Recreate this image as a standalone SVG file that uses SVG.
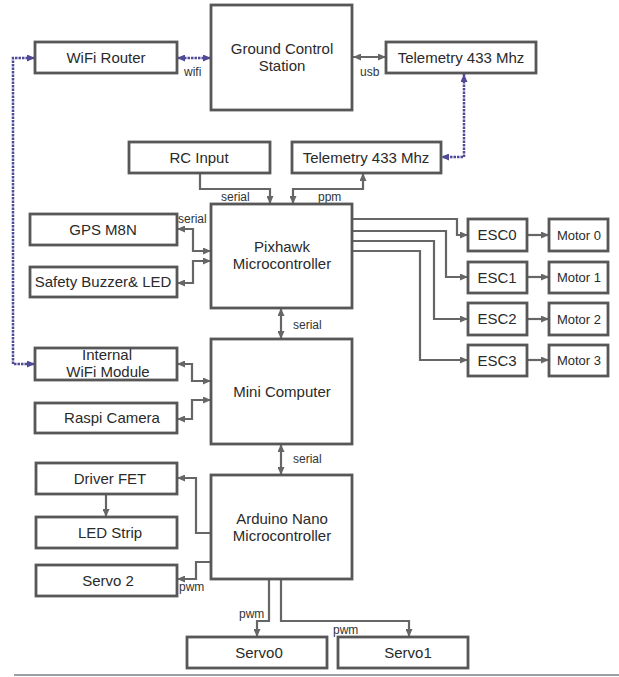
<svg xmlns="http://www.w3.org/2000/svg" width="619" height="677" viewBox="0 0 619 677">
<style>
.box{fill:#fff;stroke:#575757;stroke-width:2.8}
.t{font-family:"Liberation Sans",Arial,sans-serif;font-size:15px;fill:#2a2a2a;text-anchor:middle}
.m{font-size:13px}
.s{font-family:"Liberation Sans",Arial,sans-serif;font-size:12px;fill:#333}
.c{fill:none;stroke:#666;stroke-width:2.2}
.p{fill:none;stroke:#4e4a96;stroke-width:2.5;stroke-dasharray:2.5 1}
</style>
<defs>
<marker id="a" viewBox="0 0 8 7" refX="8" refY="3.5" markerWidth="8" markerHeight="7" markerUnits="userSpaceOnUse" orient="auto-start-reverse"><path d="M0,0 L8,3.5 L0,7 z" fill="#666"/></marker>
<marker id="ap" viewBox="0 0 8 7" refX="8" refY="3.5" markerWidth="8" markerHeight="7" markerUnits="userSpaceOnUse" orient="auto-start-reverse"><path d="M0,0 L8,3.5 L0,7 z" fill="#4e4a96"/></marker>
</defs>
<rect width="619" height="677" fill="#fff"/>
<line x1="14" y1="675" x2="619" y2="675" stroke="#9aa0a6" stroke-width="2"/>

<g id="connectors">
<path class="p" d="M177,58 H211" marker-start="url(#ap)" marker-end="url(#ap)"/>
<path class="c" d="M353,57 H386" marker-start="url(#a)" marker-end="url(#a)"/>
<path class="p" d="M464,74 V157 H441" marker-start="url(#ap)" marker-end="url(#ap)"/>
<path class="p" d="M35,58 H13 V364 H35" marker-start="url(#ap)" marker-end="url(#ap)"/>
<path class="c" d="M200,173 V189 H270 V204" marker-end="url(#a)"/>
<path class="c" d="M293,204 V189 H363 V173" marker-start="url(#a)" marker-end="url(#a)"/>
<path class="c" d="M211,251 H193 V229 H177" marker-start="url(#a)" marker-end="url(#a)"/>
<path class="c" d="M211,261 H193 V283 H177" marker-start="url(#a)" marker-end="url(#a)"/>
<path class="c" d="M281,308 V339" marker-start="url(#a)" marker-end="url(#a)"/>
<path class="c" d="M211,381 H192 V364 H177" marker-start="url(#a)" marker-end="url(#a)"/>
<path class="c" d="M211,400 H192 V419 H177" marker-start="url(#a)" marker-end="url(#a)"/>
<path class="c" d="M281,444 V475" marker-start="url(#a)" marker-end="url(#a)"/>
<path class="c" d="M211,533 H196 V478 H177" marker-end="url(#a)"/>
<path class="c" d="M106,494 V517" marker-end="url(#a)"/>
<path class="c" d="M211,562 H196 V579 H177" marker-end="url(#a)"/>
<path class="c" d="M269,579 V621 H257 V637" marker-end="url(#a)"/>
<path class="c" d="M281,579 V621 H409 V637" marker-end="url(#a)"/>
<path class="c" d="M352,219 H457 V235 H468" marker-end="url(#a)"/>
<path class="c" d="M352,231 H446 V277 H468" marker-end="url(#a)"/>
<path class="c" d="M352,241 H434 V319 H468" marker-end="url(#a)"/>
<path class="c" d="M352,251 H420 V360 H468" marker-end="url(#a)"/>
<path class="c" d="M527,235 H549" marker-end="url(#a)"/>
<path class="c" d="M527,277 H549" marker-end="url(#a)"/>
<path class="c" d="M527,319 H549" marker-end="url(#a)"/>
<path class="c" d="M527,360 H549" marker-end="url(#a)"/>
<text class="s" x="184" y="76">wifi</text>
<text class="s" x="360" y="76">usb</text>
<text class="s" x="221" y="201">serial</text>
<text class="s" x="318" y="201">ppm</text>
<text class="s" x="178" y="223">serial</text>
<text class="s" x="293" y="329">serial</text>
<text class="s" x="293" y="463">serial</text>
<text class="s" x="179" y="591">pwm</text>
<text class="s" x="239" y="618">pwm</text>
<text class="s" x="333" y="634">pwm</text>
</g>

<g id="gcs"><rect class="box" x="211" y="5" width="141" height="105"/><text class="t" x="282" y="54">Ground Control</text><text class="t" x="282" y="71">Station</text></g>
<g id="wifi-router"><rect class="box" x="35" y="42" width="142" height="31"/><text class="t" x="106" y="63">WiFi Router</text></g>
<g id="telemetry-gcs"><rect class="box" x="386" y="42" width="150" height="31"/><text class="t" x="461" y="63">Telemetry 433 Mhz</text></g>
<g id="rc-input"><rect class="box" x="129" y="142" width="141" height="31"/><text class="t" x="199" y="163">RC Input</text></g>
<g id="telemetry-uav"><rect class="box" x="292" y="142" width="149" height="31"/><text class="t" x="366" y="163">Telemetry 433 Mhz</text></g>
<g id="pixhawk"><rect class="box" x="211" y="204" width="141" height="104"/><text class="t" x="282" y="252">Pixhawk</text><text class="t" x="282" y="269">Microcontroller</text></g>
<g id="gps"><rect class="box" x="30" y="214" width="147" height="31"/><text class="t" x="103" y="235">GPS M8N</text></g>
<g id="safety"><rect class="box" x="30" y="267" width="147" height="30"/><text class="t" x="103" y="287">Safety Buzzer&amp; LED</text></g>
<g id="mini-computer"><rect class="box" x="211" y="339" width="141" height="105"/><text class="t" x="282" y="397">Mini Computer</text></g>
<g id="internal-wifi"><rect class="box" x="35" y="348" width="142" height="32"/><text class="t" x="107" y="360">Internal</text><text class="t" x="108" y="377">WiFi Module</text></g>
<g id="raspi-camera"><rect class="box" x="35" y="403" width="142" height="30"/><text class="t" x="112" y="423">Raspi Camera</text></g>
<g id="arduino"><rect class="box" x="211" y="475" width="141" height="104"/><text class="t" x="282" y="524">Arduino Nano</text><text class="t" x="282" y="541">Microcontroller</text></g>
<g id="driver-fet"><rect class="box" x="36" y="463" width="141" height="31"/><text class="t" x="110" y="484">Driver FET</text></g>
<g id="led-strip"><rect class="box" x="36" y="517" width="141" height="31"/><text class="t" x="110" y="538">LED Strip</text></g>
<g id="servo2"><rect class="box" x="36" y="565" width="141" height="31"/><text class="t" x="108" y="586">Servo 2</text></g>
<g id="servo0"><rect class="box" x="187" y="637" width="140" height="31"/><text class="t" x="259" y="658">Servo0</text></g>
<g id="servo1"><rect class="box" x="338" y="637" width="130" height="31"/><text class="t" x="408" y="658">Servo1</text></g>
<g id="esc0"><rect class="box" x="468" y="219" width="59" height="32"/><text class="t" x="497" y="240">ESC0</text></g>
<g id="esc1"><rect class="box" x="468" y="262" width="59" height="31"/><text class="t" x="497" y="283">ESC1</text></g>
<g id="esc2"><rect class="box" x="468" y="303" width="59" height="32"/><text class="t" x="497" y="324">ESC2</text></g>
<g id="esc3"><rect class="box" x="468" y="345" width="59" height="31"/><text class="t" x="497" y="366">ESC3</text></g>
<g id="motor0"><rect class="box" x="549" y="219" width="59" height="32"/><text class="t m" x="579" y="240">Motor 0</text></g>
<g id="motor1"><rect class="box" x="549" y="262" width="59" height="31"/><text class="t m" x="579" y="282">Motor 1</text></g>
<g id="motor2"><rect class="box" x="549" y="303" width="59" height="32"/><text class="t m" x="579" y="324">Motor 2</text></g>
<g id="motor3"><rect class="box" x="549" y="345" width="59" height="31"/><text class="t m" x="579" y="365">Motor 3</text></g>
</svg>
